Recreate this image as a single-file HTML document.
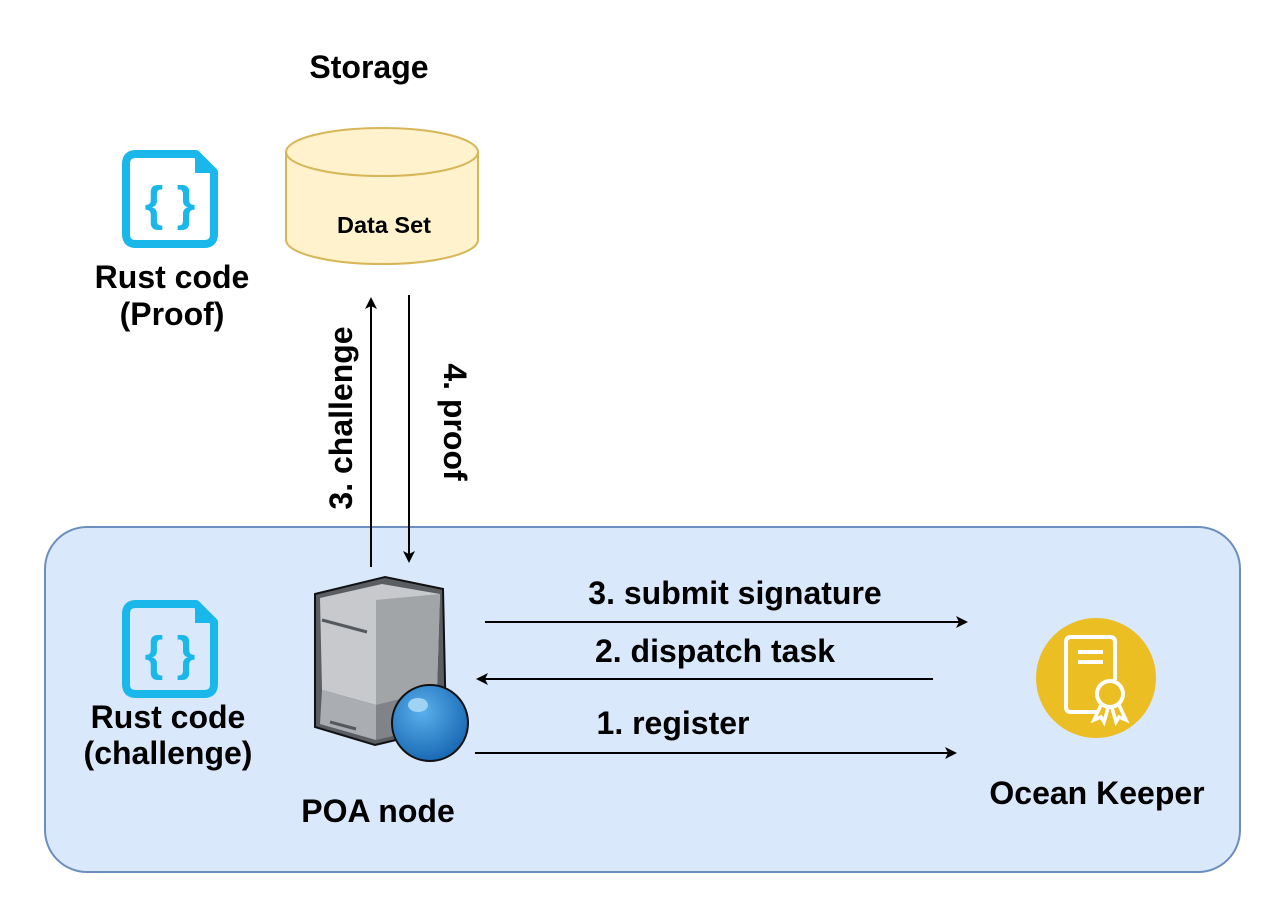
<!DOCTYPE html>
<html><head><meta charset="utf-8"><style>
html,body{margin:0;padding:0;background:#fff;}
svg text{font-family:"Liberation Sans",Arial,sans-serif;font-weight:bold;fill:#000;}
</style></head><body>
<svg width="1278" height="906" viewBox="0 0 1278 906" xmlns="http://www.w3.org/2000/svg">
<defs>
<marker id="ah" markerWidth="12" markerHeight="12" refX="10" refY="6" orient="auto" markerUnits="userSpaceOnUse">
<path d="M0,0 L12,6 L0,12 L3,6 Z" fill="#000"/></marker>
<radialGradient id="gl" cx="0.4" cy="0.35" r="0.7"><stop offset="0" stop-color="#5ab0ec"/><stop offset="1" stop-color="#1565b0"/></radialGradient>
</defs>
<rect x="45" y="527" width="1195" height="345" rx="42" fill="#dae8fc" stroke="#6c8ebf" stroke-width="2"/>
<path d="M286,152 L286,240 A96,24 0 0 0 478,240 L478,152" fill="#fff2cc" stroke="#d6b656" stroke-width="2"/>
<ellipse cx="382" cy="152" rx="96" ry="24" fill="#fff2cc" stroke="#d6b656" stroke-width="2"/>
<text x="384" y="233" font-size="23.5" text-anchor="middle">Data Set</text>
<text x="369" y="78" font-size="32" text-anchor="middle">Storage</text>
<path d="M136,154 L196,154 L214,172 L214,234 Q214,244 204,244 L136,244 Q126,244 126,234 L126,164 Q126,154 136,154 Z" fill="none" stroke="#1ab8ea" stroke-width="8" stroke-linejoin="round"/>
<path d="M196,154 L196,172 L214,172 Z" fill="#1ab8ea" stroke="#1ab8ea" stroke-width="2"/>
<text x="170" y="220" font-size="48" text-anchor="middle" style="fill:#1ab8ea">{ }</text>
<g transform="translate(0,450)">
<path d="M136,154 L196,154 L214,172 L214,234 Q214,244 204,244 L136,244 Q126,244 126,234 L126,164 Q126,154 136,154 Z" fill="none" stroke="#1ab8ea" stroke-width="8" stroke-linejoin="round"/>
<path d="M196,154 L196,172 L214,172 Z" fill="#1ab8ea" stroke="#1ab8ea" stroke-width="2"/>
<text x="170" y="220" font-size="48" text-anchor="middle" style="fill:#1ab8ea">{ }</text>
</g>
<text x="172" y="288" font-size="32" text-anchor="middle">Rust code</text>
<text x="172" y="325" font-size="32" text-anchor="middle">(Proof)</text>
<text x="168" y="728" font-size="32" text-anchor="middle">Rust code</text>
<text x="168" y="764" font-size="32" text-anchor="middle">(challenge)</text>
<path d="M315,594 L385,577 L443,589 L446,728 L375,745 L315,727 Z" fill="#5a5e63" stroke="#111" stroke-width="2"/>
<path d="M320,598 L382,584 L440,594 L437,690 L376,705 L322,690 Z" fill="#c7c9cd"/>
<path d="M376,600 L440,594 L437,690 L376,705 Z" fill="#a2a5a8"/>
<path d="M322,690 L376,705 L376,740 L320,724 Z" fill="#aaadb2"/>
<path d="M376,705 L437,690 L440,725 L376,740 Z" fill="#808387"/>
<line x1="322" y1="620" x2="367" y2="632" stroke="#55595e" stroke-width="3"/>
<line x1="330" y1="722" x2="356" y2="729" stroke="#55595e" stroke-width="3"/>
<circle cx="430" cy="723" r="38" fill="url(#gl)" stroke="#111" stroke-width="2"/>
<ellipse cx="418" cy="705" rx="10" ry="7" fill="#9fd3f6"/>
<text x="378" y="822" font-size="32" text-anchor="middle">POA node</text>
<circle cx="1096" cy="678" r="60" fill="#ebbe24"/>
<path d="M1098,712 L1071,712 Q1066,712 1066,707 L1066,642 Q1066,637 1071,637 L1110,637 Q1115,637 1115,642 L1115,680" fill="none" stroke="#fff" stroke-width="4"/>
<line x1="1078" y1="652" x2="1103" y2="652" stroke="#fff" stroke-width="4"/>
<line x1="1078" y1="662" x2="1103" y2="662" stroke="#fff" stroke-width="4"/>
<circle cx="1110" cy="694" r="13" fill="#ebbe24" stroke="#fff" stroke-width="4"/>
<path d="M1101,705 L1094,720 L1101,717 L1104,722 L1108,708 M1119,705 L1126,720 L1119,717 L1116,722 L1112,708" fill="none" stroke="#fff" stroke-width="3.5"/>
<text x="1097" y="804" font-size="32" text-anchor="middle">Ocean Keeper</text>
<line x1="371" y1="567" x2="371" y2="299" stroke="#000" stroke-width="2" marker-end="url(#ah)"/>
<line x1="409" y1="295" x2="409" y2="561" stroke="#000" stroke-width="2" marker-end="url(#ah)"/>
<line x1="485" y1="622" x2="966" y2="622" stroke="#000" stroke-width="2" marker-end="url(#ah)"/>
<line x1="933" y1="679" x2="478" y2="679" stroke="#000" stroke-width="2" marker-end="url(#ah)"/>
<line x1="475" y1="753" x2="955" y2="753" stroke="#000" stroke-width="2" marker-end="url(#ah)"/>
<text font-size="32" text-anchor="middle" transform="translate(352,418) rotate(-90)">3. challenge</text>
<text font-size="32" text-anchor="middle" transform="translate(444,422) rotate(90)">4. proof</text>
<text x="735" y="604" font-size="32" text-anchor="middle">3. submit signature</text>
<text x="715" y="662" font-size="32" text-anchor="middle">2. dispatch task</text>
<text x="673" y="734" font-size="32" text-anchor="middle">1. register</text>
</svg>
</body></html>
